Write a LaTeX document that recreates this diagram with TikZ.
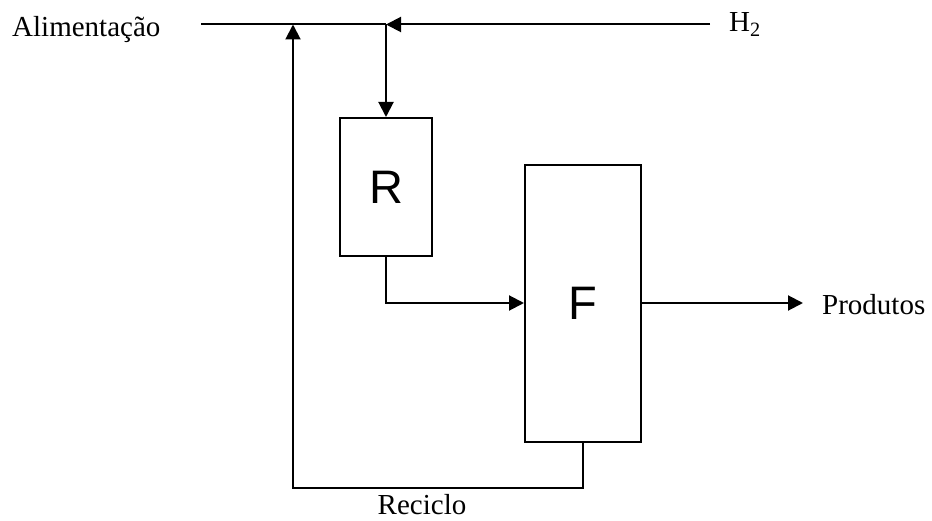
\documentclass[tikz,border=0pt]{standalone}
\usepackage{fontspec}
\setmainfont{Liberation Serif}
\newfontfamily\unitfont{Liberation Sans}
\usepackage{tikz}
\usetikzlibrary{arrows.meta,positioning}

\begin{document}
\begin{tikzpicture}[
  x=1pt, y=-1pt,
  unit/.style={draw, line width=2pt, inner sep=0pt,
               font=\unitfont\fontsize{47}{52}\selectfont},
  stream/.style={line width=2pt},
  feed/.style={stream, -{Triangle[length=15pt, width=15pt]}},
  label/.style={inner sep=0pt, font=\fontsize{29}{34}\selectfont},
]
  \useasboundingbox (0,0) rectangle (932,521);

  % Units -------------------------------------------------------------------
  \node[unit, minimum width=92pt, minimum height=138pt] (reactor) at (386,187) {R};
  \node[unit, minimum width=116pt, minimum height=277pt] (flash) at (583,303.5) {F};

  % Labels ------------------------------------------------------------------
  \node[label, anchor=base west] (alim) at (12,37) {Alimentação};
  \node[label, anchor=base west] (hydro) at (729,32) {H\textsubscript{2}};
  \node[label, anchor=base west] (prod) at (822,315) {Produtos};
  \node[label, anchor=base] (recycle) at (422,514) {Reciclo};

  % Stream points -----------------------------------------------------------
  \coordinate (alimin) at (201,24.5);
  \coordinate (hydroin) at (710,24.5);
  \coordinate (mix) at (386,24.5);
  \coordinate (recmix) at (293,24.5);
  \coordinate (prodout) at (803,303);
  \coordinate (rbend) at (reactor.south |- 0,303);
  \coordinate (fbend) at (flash.south |- 0,488);
  \coordinate (recbend) at (293,488);

  % Streams -----------------------------------------------------------------
  \draw[stream] (alimin) -- (mix);
  \draw[feed] (hydroin) -- (mix);
  \draw[feed] (mix) -- (reactor.north);
  \draw[feed] (reactor.south) -- (rbend) -- (flash.west |- rbend);
  \draw[feed] (flash.east |- prodout) -- (prodout);
  \draw[feed] (flash.south) -- (fbend) -- (recbend) -- (recmix);
\end{tikzpicture}
\end{document}
